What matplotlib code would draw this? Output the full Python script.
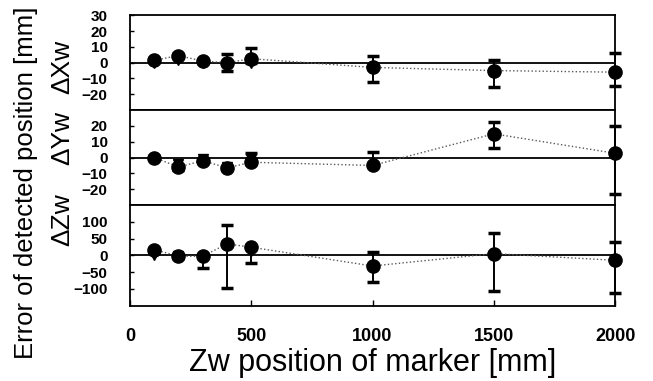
import matplotlib.pyplot as plt

plt.rcParams["font.family"] = ["Liberation Sans", "DejaVu Sans"]

# marker position Zw [mm]
zw = [100, 200, 300, 400, 500, 1000, 1500, 2000]

# error of detected position, mean and asymmetric error bars
dx = [1.5, 4.5, 1, 0, 2.5, -3, -5, -6]
dx_lo = [1, 1, 1, 5, 2.5, 9.5, 10.7, 8.5]
dx_hi = [1, 1, 1, 5.5, 7, 7, 6.5, 12]

dy = [0, -6, -2, -6.5, -3, -5, 15, 2.7]
dy_lo = [1, 2, 1, 1, 1, 0, 9.2, 25.7]
dy_hi = [1, 1, 1, 1, 6, 8.3, 7.7, 17.3]

dz = [17, -3, -3, 34, 24, -32, 5, -15]
dz_lo = [4, 4, 34, 132, 48, 48, 111, 98]
dz_hi = [4, 4, 4, 56, 4, 42, 62, 54]

# second (overlapping) marker set, near-field points only
zw2 = [100, 200, 300, 400, 500]
dx2 = [0, 2, 0, -2, 0]
dy2 = [-1, -4, -1, -6, -1]
dz2 = [0, -3, -6, 30, 14]

panels = [
    ("ΔXw", dx, dx_lo, dx_hi, dx2, (-30, 30), [30, 20, 10, 0, -10, -20]),
    ("ΔYw", dy, dy_lo, dy_hi, dy2, (-30, 30), [20, 10, 0, -10, -20]),
    ("ΔZw", dz, dz_lo, dz_hi, dz2, (-150, 150), [100, 50, 0, -50, -100]),
]

fig = plt.figure(figsize=(6.53, 3.81), dpi=100)
boxes = [
    [0.199, 0.711, 0.743, 0.249],
    [0.199, 0.462, 0.743, 0.249],
    [0.199, 0.198, 0.743, 0.264],
]
# vertical centre (pixels from top) of each panel's rotated label
label_y = [67, 138, 220]

for (label, val, lo, hi, val2, ylim, yticks), box, ly in zip(panels, boxes, label_y):
    ax = fig.add_axes(box)
    ax.axhline(0, color="black", lw=1.3, zorder=1)
    ax.plot(zw, val, ls=":", color="0.35", lw=1, zorder=2)
    eb = ax.errorbar(
        zw, val, yerr=[lo, hi],
        fmt="o", color="black", ms=9.5,
        ecolor="black", elinewidth=1.4, capsize=4, capthick=2.5,
        zorder=3,
    )
    for art in eb.lines[1] + eb.lines[2]:
        art.set_clip_on(False)
    eb.lines[0].set_clip_on(False)
    ax.plot(zw2, val2, "v", color="black", ms=7, zorder=3)
    ax.set_xlim(0, 2000)
    ax.set_ylim(*ylim)
    ax.set_yticks(yticks)
    ax.tick_params(axis="y", direction="in", length=3, width=1, labelsize=11, pad=16)
    for t in ax.get_yticklabels():
        t.set_fontweight("bold")
    fig.text(62 / 653, 1 - ly / 381, label, rotation=90, ha="center", va="center",
             fontsize=19)
    for s in ax.spines.values():
        s.set_linewidth(1.3)
    if label != "ΔZw":
        ax.set_xticks([])
    else:
        ax.set_xticks([0, 500, 1000, 1500, 2000])
        ax.tick_params(axis="x", direction="in", length=4, width=1, labelsize=13, pad=16)
        for t in ax.get_xticklabels():
            t.set_fontweight("bold")
        ax.set_xlabel("Zw position of marker [mm]", fontsize=22, labelpad=2)

fig.text(0.040, 0.52, "Error of detected position [mm]", rotation=90,
         ha="center", va="center", fontsize=18.5)

fig.savefig("out.png", dpi=100)
